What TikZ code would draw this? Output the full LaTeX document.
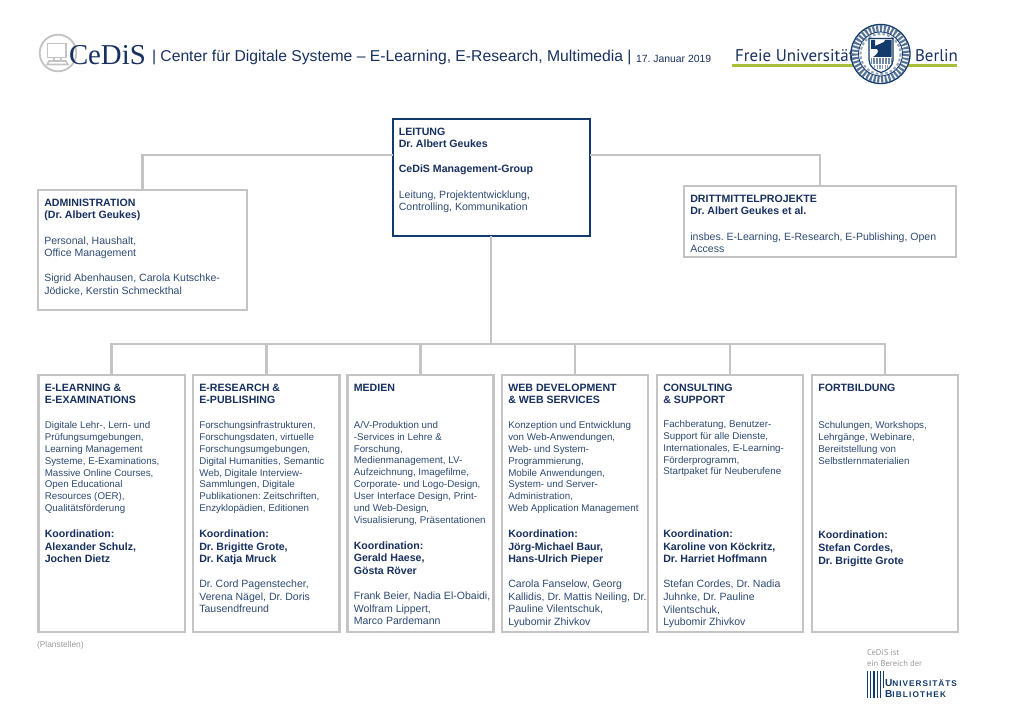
\documentclass[tikz,border=0pt]{standalone}
\usepackage{fontspec}
\setmainfont{Liberation Sans}
\newfontfamily\serifhead{Liberation Serif}
\newfontfamily\fuhead{PT Sans}
\usetikzlibrary{calc}
\frenchspacing
\definecolor{fuhead}{HTML}{17305F}
\definecolor{fubody}{HTML}{2D4A73}
\definecolor{fublue}{HTML}{123A6B}
\definecolor{boxgrey}{HTML}{C4C4C4}
\definecolor{fugreen}{HTML}{A9BF3A}
\definecolor{softgrey}{HTML}{9A9A9A}
\newcommand\hd[1]{{\bfseries\color{fuhead}\fontsize{7.95pt}{9.4pt}\selectfont #1\par}}
\newcommand\bd[1]{{\color{fubody}\fontsize{7.33pt}{8.93pt}\selectfont #1\par}}
\newcommand\pe[1]{{\color{fubody}\fontsize{7.9pt}{9.4pt}\selectfont #1\par}}
\newcommand\gap[1]{\vspace{#1pt}}
\newcommand\orgbox[7][lowbox]{%
  \pgfmathsetmacro\bw{(#5-#3)*0.75}%
  \pgfmathsetmacro\bh{(#6-#4)*0.75}%
  \pgfmathsetmacro\tw{\bw-1.5}%
  \pgfmathsetmacro\th{\bh-13.5}%
  \node[#1,minimum width=\bw pt,minimum height=\bh pt] (#2) at ({(#3+#5)/2},{(#4+#6)/2})
    {\parbox[c][\th pt][t]{\tw pt}{\leftskip=4pt\rightskip=0pt plus 1fil\parindent=0pt\parskip=0pt #7}};}
\tikzset{
  lowbox/.style={draw=boxgrey,line width=1.7pt,fill=white,inner sep=0pt,outer sep=0pt},
  leadbox/.style={lowbox,draw=fublue,line width=1.5pt},
  conn/.style={draw=boxgrey,line width=1.9pt},
  plain/.style={inner sep=0pt,outer sep=0pt,anchor=west,text=fuhead},
  sealline/.style={draw=fublue,line width=0.6pt},
  ubbar/.style={draw=fublue,line width=0.9pt}
}
\begin{document}
\begin{tikzpicture}[x=0.75pt,y=-0.75pt]
\useasboundingbox (0,0) rectangle (1024,709);
% header
\draw[draw=boxgrey,line width=1.4pt,fill=white] (58,53) circle (18.3);
\draw[draw=boxgrey,line width=1.2pt] (47.5,43.5) rectangle (66,57.5) (54,57.5) -- (54,61) (61,57.5) -- (61,61);
\draw[draw=boxgrey,line width=1.2pt] (49,61) -- (66,61) -- (68,64.5) -- (47,64.5) -- cycle;
\node[plain] (cedis) at (69,55) {\serifhead\fontsize{21.6pt}{24pt}\selectfont CeDiS};
\node[plain] (title) at (152,57.5) {\fontsize{11.78pt}{14pt}\selectfont | Center für Digitale Systeme – E-Learning, E-Research, Multimedia |};
\node[plain] (date) at (636,58.5) {\fontsize{7.8pt}{10pt}\selectfont 17. Januar 2019};
\node[plain] (fu) at (735,55.5) {\fuhead\fontsize{12.7pt}{15pt}\selectfont Freie Universität};
\node[plain] (berlin) at (915,55.5) {\fuhead\fontsize{12.7pt}{15pt}\selectfont Berlin};
\draw[fugreen,line width=2.4pt] (732,65.8) -- (957,65.8);
% seal
\draw[sealline,fill=white,line width=1pt] (880.5,54) circle (29.5);
\draw[draw=fublue!70,line width=5pt,dash pattern=on 1.6pt off 1.2pt] (880.5,54) circle (25.5);
\draw[sealline] (880.5,54) circle (22);
\draw[draw=fublue!45,line width=1.6pt,dash pattern=on 2pt off 1.6pt] (880.5,54) circle (20);
\fill[white] (880.5,54) circle (18.5);
\draw[sealline,fill=white,line width=0.9pt] (869,38.5) -- (893,38.5) -- (893,60) .. controls (893,67) and (886,71) .. (881,72.5) .. controls (876,71) and (869,67) .. (869,60) -- cycle;
\fill[fublue] (871,40) -- (875,40) -- (875,46) .. controls (878,44) and (881,44) .. (884,42) -- (885,40) -- (891.5,40) -- (891.5,57) -- (873,57) .. controls (878,54) and (879,51) .. (877,49) -- (871,49) -- cycle;
\draw[draw=fublue!60,line width=4pt,dash pattern=on 1.2pt off 1pt] (870.5,61) -- (891.5,61);
\draw[draw=fublue!50,line width=3pt,dash pattern=on 1pt off 1pt] (874,67) -- (888,67);
% boxes
\orgbox[leadbox]{leitung}{392.5}{119}{589.5}{236}{%
 \hd{LEITUNG\\Dr. Albert Geukes}\gap{9.4}\hd{CeDiS Management-Group}\gap{9.4}\pe{Leitung, Projektentwicklung,\\Controlling, Kommunikation}}
\orgbox{admin}{38}{190}{247}{310}{%
 \hd{ADMINISTRATION\\(Dr. Albert Geukes)}\gap{9.4}\pe{Personal, Haushalt,\\Office Management}\gap{9.4}\pe{Sigrid Abenhausen, Carola Kutschke-\\Jödicke, Kerstin Schmeckthal}}
\orgbox{dritt}{684}{186}{956}{257}{%
 \hd{DRITTMITTELPROJEKTE\\Dr. Albert Geukes et al.}\gap{9.4}\pe{insbes. E-Learning, E-Research, E-Publishing, Open\\Access}}
\orgbox{elearn}{38.5}{375}{185}{632}{%
 \hd{E-LEARNING \&\\E-EXAMINATIONS}\gap{9.4}\bd{Digitale Lehr-, Lern- und\\Prüfungsumgebungen,\\Learning Management\\Systeme, E-Examinations,\\Massive Online Courses,\\Open Educational\\Resources (OER),\\Qualitätsförderung}\gap{10}\hd{Koordination:\\Alexander Schulz,\\Jochen Dietz}}
\orgbox{eres}{193}{375}{339.5}{632}{%
 \hd{E-RESEARCH \&\\E-PUBLISHING}\gap{9.4}\bd{Forschungsinfrastrukturen,\\Forschungsdaten, virtuelle\\Forschungsumgebungen,\\Digital Humanities, Semantic\\Web, Digitale Interview-\\Sammlungen, Digitale\\Publikationen: Zeitschriften,\\Enzyklopädien, Editionen}\gap{10}\hd{Koordination:\\Dr. Brigitte Grote,\\Dr. Katja Mruck}\gap{9.4}\pe{Dr. Cord Pagenstecher,\\Verena Nägel, Dr. Doris\\Tausendfreund}}
\orgbox{medien}{347.5}{375}{493.5}{632}{%
 \hd{MEDIEN\\\strut}\gap{9.4}\bd{A/V-Produktion und\\-Services in Lehre \&\\Forschung,\\Medienmanagement, LV-\\Aufzeichnung, Imagefilme,\\Corporate- und Logo-Design,\\User Interface Design, Print-\\und Web-Design,\\Visualisierung, Präsentationen}\gap{10}\hd{Koordination:\\Gerald Haese,\\Gösta Röver}\gap{9.4}\pe{Frank Beier, Nadia El-Obaidi,\\Wolfram Lippert,\\Marco Pardemann}}
\orgbox{web}{502}{375}{648}{632}{%
 \hd{WEB DEVELOPMENT\\\& WEB SERVICES}\gap{9.4}\bd{Konzeption und Entwicklung\\von Web-Anwendungen,\\Web- und System-\\Programmierung,\\Mobile Anwendungen,\\System- und Server-\\Administration,\\Web Application Management}\gap{10}\hd{Koordination:\\Jörg-Michael Baur,\\Hans-Ulrich Pieper}\gap{9.4}\pe{Carola Fanselow, Georg\\Kallidis, Dr. Mattis Neiling, Dr.\\Pauline Vilentschuk,\\Lyubomir Zhivkov}}
\orgbox{cons}{657}{375}{803}{632}{%
 \hd{CONSULTING\\\& SUPPORT}\gap{8.6}\bd{Fachberatung, Benutzer-\\Support für alle Dienste,\\Internationales, E-Learning-\\Förderprogramm,\\Startpaket für Neuberufene}\gap{37.75}\hd{Koordination:\\Karoline von Köckritz,\\Dr. Harriet Hoffmann}\gap{9.4}\pe{Stefan Cordes, Dr. Nadia\\Juhnke, Dr. Pauline\\Vilentschuk,\\Lyubomir Zhivkov}}
\orgbox{fort}{812}{375}{958}{632}{%
 \hd{FORTBILDUNG\\\strut}\gap{9.4}\bd{Schulungen, Workshops,\\Lehrgänge, Webinare,\\Bereitstellung von\\Selbstlernmaterialien}\gap{46.75}\hd{Koordination:\\Stefan Cordes,\\Dr. Brigitte Grote}}
% connectors
\coordinate (topbus) at (491,155);
\coordinate (lowbus) at (491,344);
\draw[conn] (admin.north) -- (admin.north |- topbus) -- (leitung.west |- topbus);
\draw[conn] (leitung.east |- topbus) -- (dritt.north |- topbus) -- (dritt.north);
\draw[conn] (leitung.south) -- (leitung.south |- lowbus);
\draw[conn] (elearn.north) -- (elearn.north |- lowbus) -- (fort.north |- lowbus) -- (fort.north);
\draw[conn] (eres.north) -- (eres.north |- lowbus);
\draw[conn] (medien.north) -- (medien.north |- lowbus);
\draw[conn] (web.north) -- (web.north |- lowbus);
\draw[conn] (cons.north) -- (cons.north |- lowbus);
% footer
\node[plain,text=softgrey] (plan) at (37,645.5) {\fontsize{6.3pt}{8pt}\selectfont (Planstellen)};
\node[plain,text=softgrey,align=left,font=\fuhead\fontsize{6.4pt}{8.2pt}\selectfont] (ist) at (867,658) {CeDiS ist\\ein Bereich der};
\foreach \bx in {867.5,870.7,873.9,877.1,880.3}{\draw[ubbar] (\bx,671) -- (\bx,697.5);}
\draw[ubbar] (883.5,671) -- (883.5,688);
\node[plain,text=fublue] (ub1) at (885,683.5) {\bfseries\fontsize{7.6pt}{8pt}\selectfont U\fontsize{6.2pt}{8pt}\selectfont\addfontfeature{LetterSpace=12}NIVERSITÄTS};
\node[plain,text=fublue] (ub2) at (885,694) {\bfseries\fontsize{7.6pt}{8pt}\selectfont B\fontsize{6.2pt}{8pt}\selectfont\addfontfeature{LetterSpace=14}IBLIOTHEK};
\end{tikzpicture}
\end{document}
